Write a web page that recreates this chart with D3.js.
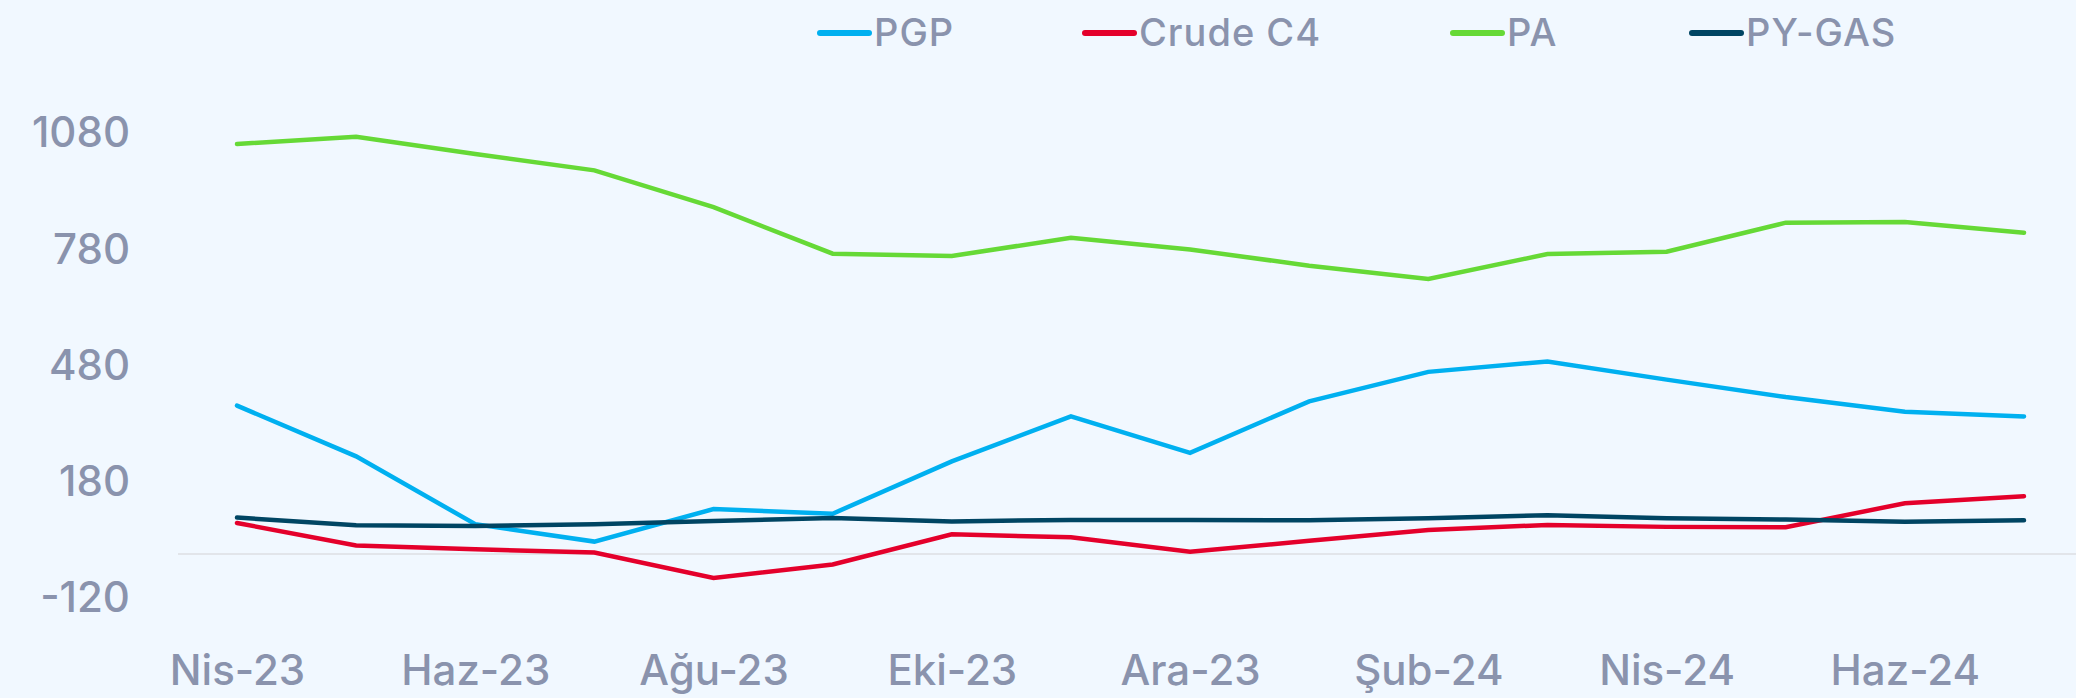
<!DOCTYPE html>
<html>
<head>
<meta charset="utf-8">
<script src="https://cdn.jsdelivr.net/npm/d3@7"></script>
<style>
  html, body { margin: 0; padding: 0; background: #F1F8FF; }
  svg { display: block; }
  text { font-family: Inter, "Open Sans", sans-serif; fill: #8A93AD; font-weight: 500; }
</style>
</head>
<body>
<svg id="chart" width="2076" height="698"></svg>
<script>
// ---- data ----
const months = ["Nis-23","May-23","Haz-23","Tem-23","Ağu-23","Eyl-23","Eki-23","Kas-23","Ara-23","Oca-24","Şub-24","Mar-24","Nis-24","May-24","Haz-24","Tem-24"];
const xTickLabels = ["Nis-23","Haz-23","Ağu-23","Eki-23","Ara-23","Şub-24","Nis-24","Haz-24"];
const yTicks = [-120, 180, 480, 780, 1080];
const seriesNames = ["PGP", "Crude C4", "PA", "PY-GAS"];
const pgp     = [383, 252, 77, 32, 116, 104, 239, 355, 261, 394, 470, 497, 450, 405, 367, 355];
const crudeC4 = [80, 22, 12, 4, -62, -27, 51, 43, 6, 34, 62, 75, 70, 69, 131, 149];
const pa      = [1058, 1077, 1032, 990, 895, 775, 769, 816, 786, 744, 710, 774, 780, 855, 857, 829];
const pyGas   = [94, 74, 72, 77, 85, 93, 84, 88, 88, 87, 92, 100, 92, 89, 83, 87];
const colors  = ["#00B0F0", "#E4002B", "#66D936", "#004563"];

const seriesValues = [pgp, crudeC4, pa, pyGas];

// ---- layout ----
const svg = d3.select("#chart");
const x = d3.scalePoint().domain(months).range([237, 2024]);
const y = d3.scaleLinear().domain([-120, 1080]).range([600.5, 135.5]);

// zero baseline
svg.append("line")
  .attr("x1", 178).attr("x2", 2076)
  .attr("y1", y(0)).attr("y2", y(0))
  .attr("stroke", "#E2E5EA").attr("stroke-width", 2);

// y axis
const yAxis = svg.append("g")
  .attr("transform", "translate(130,0)")
  .call(d3.axisLeft(y).tickValues(yTicks).tickSize(0).tickPadding(0).tickFormat(d => d));
yAxis.select(".domain").remove();
yAxis.selectAll("text")
  .attr("font-size", 42)
  .attr("dy", "0.32em")
  .attr("y", -2)
  .style("font-family", "Inter, sans-serif")
  .style("font-weight", 500)
  .attr("fill", "#8A93AD");

// x axis
const xAxis = svg.append("g")
  .attr("transform", "translate(0,640)")
  .call(d3.axisBottom(x).tickValues(xTickLabels).tickSize(0).tickPadding(0));
xAxis.select(".domain").remove();
xAxis.selectAll("text")
  .attr("font-size", 42)
  .attr("dy", "1.06em")
  .style("font-family", "Inter, sans-serif")
  .style("font-weight", 500)
  .attr("fill", "#8A93AD");

// lines
const line = d3.line().x((d, i) => x(months[i])).y(d => y(d));
seriesValues.forEach((vals, k) => {
  svg.append("path")
    .datum(vals)
    .attr("d", line)
    .attr("fill", "none")
    .attr("stroke", colors[k])
    .attr("stroke-width", 4.5)
    .attr("stroke-linecap", "round")
    .attr("stroke-linejoin", "miter");
});

// legend
const legendX = [817, 1082, 1450, 1689];
const legend = svg.append("g");
seriesNames.forEach((name, k) => {
  const g = legend.append("g").attr("transform", `translate(${legendX[k]},33)`);
  g.append("line")
    .attr("x1", 3).attr("x2", 52).attr("y1", 0).attr("y2", 0)
    .attr("stroke", colors[k]).attr("stroke-width", 6).attr("stroke-linecap", "round");
  g.append("text")
    .attr("x", 57).attr("y", 0).attr("dy", "0.35em")
    .attr("font-size", 38)
    .attr("letter-spacing", 1)
    .text(name);
});
</script>
</body>
</html>
